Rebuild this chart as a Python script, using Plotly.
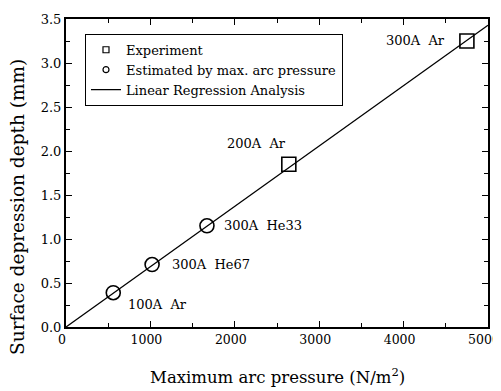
import plotly.graph_objects as go

# Data
exp_x = [2640, 4750]
exp_y = [1.85, 3.25]
exp_labels = ["200A  Ar", "300A  Ar"]

est_x = [560, 1020, 1670]
est_y = [0.39, 0.71, 1.15]
est_labels = ["100A  Ar", "300A  He67", "300A  He33"]

reg_x = [0, 5000]
reg_y = [0.0, 3.43]

x_title = "Maximum arc pressure (N/m<sup>2</sup>)"
y_title = "Surface depression depth (mm)"

FONT = "DejaVu Serif, serif"

fig = go.Figure()

fig.add_trace(go.Scatter(x=reg_x, y=reg_y, mode="lines",
                         line=dict(color="black", width=1.3), showlegend=False))
fig.add_trace(go.Scatter(x=est_x, y=est_y, mode="markers",
                         marker=dict(symbol="circle-open", size=14, color="black",
                                     line=dict(width=1.6)), showlegend=False))
fig.add_trace(go.Scatter(x=exp_x, y=exp_y, mode="markers",
                         marker=dict(symbol="square-open", size=14, color="black",
                                     line=dict(width=1.6)), showlegend=False))

# legend entries (small symbols)
fig.add_trace(go.Scatter(x=[None], y=[None], mode="markers", name="Experiment",
                         marker=dict(symbol="square-open", size=6, color="black",
                                     line=dict(width=1.2))))
fig.add_trace(go.Scatter(x=[None], y=[None], mode="markers", name="Estimated by max. arc pressure",
                         marker=dict(symbol="circle-open", size=6, color="black",
                                     line=dict(width=1.2))))
fig.add_trace(go.Scatter(x=[None], y=[None], mode="lines", name="Linear Regression Analysis",
                         line=dict(color="black", width=1.2)))

annotations = []
annotations.append(dict(x=exp_x[0], y=exp_y[0], text=exp_labels[0], showarrow=False,
                        xanchor="right", yanchor="middle", xshift=-1, yshift=21))
annotations.append(dict(x=exp_x[1], y=exp_y[1], text=exp_labels[1], showarrow=False,
                        xanchor="right", yanchor="middle", xshift=-20, yshift=1))
annotations.append(dict(x=est_x[0], y=est_y[0], text=est_labels[0], showarrow=False,
                        xanchor="left", yanchor="middle", xshift=13, yshift=-12))
annotations.append(dict(x=est_x[1], y=est_y[1], text=est_labels[1], showarrow=False,
                        xanchor="left", yanchor="middle", xshift=18, yshift=0))
annotations.append(dict(x=est_x[2], y=est_y[2], text=est_labels[2], showarrow=False,
                        xanchor="left", yanchor="middle", xshift=15, yshift=0))
for a in annotations:
    a["font"] = dict(family=FONT, size=13, color="black")

# axis titles as paper annotations
annotations.append(dict(xref="paper", yref="paper", x=0.5, y=-0.159,
                        text=x_title, showarrow=False, xanchor="center", yanchor="middle",
                        font=dict(family=FONT, size=16.5, color="black")))
annotations.append(dict(xref="paper", yref="paper", x=-0.1137, y=-0.097,
                        text=y_title, showarrow=False, textangle=-90,
                        xanchor="center", yanchor="bottom",
                        font=dict(family=FONT, size=18.5, color="black")))

# The page body has an 8px margin, so margins are offset by 8px
fig.update_layout(
    width=501, height=391,
    margin=dict(l=58, r=21, t=11, b=72),
    paper_bgcolor="white", plot_bgcolor="white",
    font=dict(family=FONT, size=13, color="black"),
    annotations=annotations,
    legend=dict(x=0.045, y=0.952, xanchor="left", yanchor="top",
                bordercolor="black", borderwidth=1, bgcolor="white",
                font=dict(family=FONT, size=13, color="black"),
                tracegroupgap=0, itemwidth=30),
    xaxis=dict(range=[0, 5000], tickvals=[0, 1000, 2000, 3000, 4000, 5000],
               ticks="inside", ticklen=6, tickwidth=1.2, tickcolor="black",
               minor=dict(dtick=500, ticks="inside", ticklen=4, tickcolor="black"),
               showline=True, linecolor="black", linewidth=2, mirror="ticks",
               showgrid=False, zeroline=False, automargin=False,
               ticklabelshift=-4,
               tickfont=dict(family=FONT, size=12.5)),
    yaxis=dict(range=[0, 3.5], tickvals=[0, 0.5, 1.0, 1.5, 2.0, 2.5, 3.0, 3.5],
               ticktext=["0.0", "0.5", "1.0", "1.5", "2.0", "2.5", "3.0", "3.5"],
               ticks="inside", ticklen=6, tickwidth=1.2, tickcolor="black",
               minor=dict(dtick=0.25, ticks="inside", ticklen=4, tickcolor="black"),
               showline=True, linecolor="black", linewidth=2, mirror="ticks",
               showgrid=False, zeroline=False, automargin=False,
               tickfont=dict(family=FONT, size=13)),
)

fig.write_html("out.html")
